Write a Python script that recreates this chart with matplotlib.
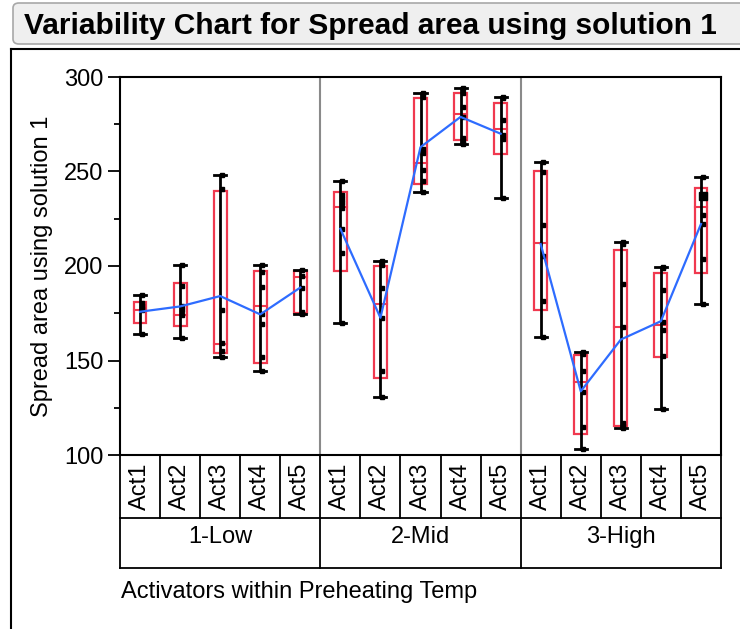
import numpy as np
import matplotlib
matplotlib.use('AGG')
import matplotlib.pyplot as plt
from matplotlib.patches import FancyBboxPatch, Rectangle
from matplotlib.lines import Line2D

plt.rcParams['font.family'] = ['Liberation Sans', 'DejaVu Sans']

groups = ['1-Low', '2-Mid', '3-High']
activators = ['Act1', 'Act2', 'Act3', 'Act4', 'Act5']

# one entry per cell, Act1..Act5 within each temperature group
range_lo = [164.1, 162.0, 151.9, 144.3, 174.4,
            169.8, 130.6, 239.0, 264.7, 236.0,
            162.3, 103.0, 114.2, 124.3, 180.1]
range_hi = [184.7, 200.4, 248.2, 200.4, 198.1,
            245.2, 202.4, 291.3, 294.1, 289.5,
            255.2, 154.4, 212.6, 199.5, 247.0]
box_lo = [169.6, 168.2, 154.0, 148.5, 175.1,
          197.4, 140.7, 243.5, 266.8, 259.4,
          176.7, 111.0, 115.4, 152.1, 196.5]
box_hi = [180.9, 191.0, 239.9, 197.4, 197.4,
          238.9, 199.9, 288.8, 291.3, 286.0,
          250.2, 153.1, 208.7, 196.5, 241.2]
medians = [176.5, 174.0, 158.8, 178.6, 194.2,
           231.1, 179.7, 254.6, 280.3, 272.5,
           212.1, 138.6, 167.7, 168.7, 231.1]
means = [175.8, 178.6, 184.1, 174.4, 188.6,
         219.7, 172.6, 262.9, 278.9, 270.0,
         211.6, 133.7, 161.1, 170.8, 222.2]
points = [
    [184.7, 180.2, 179.0, 177.8, 176.5, 164.1],
    [200.4, 189.3, 178.6, 176.9, 174.0, 162.0],
    [248.2, 240.8, 176.9, 159.3, 154.9, 151.9],
    [200.4, 196.9, 188.9, 174.4, 169.1, 151.7, 144.3],
    [198.1, 194.7, 188.6, 175.5, 174.4],
    [245.2, 237.8, 235.5, 233.2, 230.7, 219.7, 207.0, 169.8],
    [202.4, 200.6, 188.2, 172.3, 144.3, 130.6],
    [291.3, 289.2, 262.1, 259.8, 250.9, 245.2, 239.0],
    [294.1, 291.6, 284.2, 278.9, 267.5, 266.1, 264.7],
    [289.5, 288.8, 277.5, 269.1, 267.4, 236.0],
    [255.2, 249.7, 221.7, 205.2, 181.5, 162.3],
    [154.4, 153.5, 144.6, 133.3, 114.7, 103.0],
    [212.6, 211.9, 190.3, 167.7, 116.8, 115.4, 114.2],
    [199.5, 198.8, 187.1, 170.5, 165.9, 152.6, 124.3],
    [247.0, 227.2, 222.2, 203.6, 180.1],
]
# overlapping observations drawn as a larger square
stacked_cell = [14]
stacked_val = [236.8]

W, H = 740, 629
fig = plt.figure(figsize=(W / 100, H / 100), dpi=100)


def fx(px):
    return px / W


def fy(py):
    return 1 - py / H


# title bar and outer frame
fig.patches.append(FancyBboxPatch((fx(13), fy(44)), fx(760) - fx(13), fy(3) - fy(44),
                                  boxstyle='round,pad=0,rounding_size=0.008',
                                  transform=fig.transFigure, facecolor='#efefef',
                                  edgecolor='#a8a8a8', linewidth=1.2))
fig.text(fx(24), fy(26), 'Variability Chart for Spread area using solution 1',
         fontsize=21.5, fontweight='bold', va='center', ha='left')
fig.lines.append(Line2D([fx(11), fx(11)], [fy(49), 0], transform=fig.transFigure,
                        color='black', lw=1.5))
fig.lines.append(Line2D([fx(11), 1], [fy(49), fy(49)], transform=fig.transFigure,
                        color='black', lw=1.5))

x0, x1, y0, y1 = 120, 721, 77, 455
ax = fig.add_axes([fx(x0), fy(y1), fx(x1) - fx(x0), fy(y0) - fy(y1)])
ax.set_xlim(0, 15)
ax.set_ylim(100, 300)

red = '#f0394f'
blue = '#2e6cff'
n = len(means)
xc = np.arange(n) + 0.5

for i in range(n):
    x = xc[i]
    ax.add_patch(Rectangle((x - 0.16, box_lo[i]), 0.32, box_hi[i] - box_lo[i],
                           fill=False, edgecolor=red, lw=1.6, zorder=3))
    ax.plot([x - 0.16, x + 0.16], [medians[i], medians[i]], color=red, lw=1.5, zorder=3)
    ax.plot([x, x], [range_lo[i], range_hi[i]], color='black', lw=2, zorder=4)
    for v in (range_lo[i], range_hi[i]):
        ax.plot([x - 0.15, x + 0.15], [v, v], color='black', lw=2, zorder=4)
    ax.plot(np.full(len(points[i]), x + 0.05), points[i], 's', color='black',
            markersize=2.3, zorder=5)

for c, v in zip(stacked_cell, stacked_val):
    ax.plot([xc[c] + 0.05], [v], 's', color='black', markersize=5.5, zorder=5)

for g in range(len(groups)):
    sl = slice(g * 5, g * 5 + 5)
    ax.plot(xc[sl], means[sl], color=blue, lw=1.6, zorder=6)

for xv in (5, 10):
    ax.axvline(xv, color='#8a8a8a', lw=1.5, zorder=1)

ax.set_yticks([100, 150, 200, 250, 300])
ax.set_yticks([125, 175, 225, 275], minor=True)
ax.tick_params(axis='y', which='major', length=9, width=1.3, labelsize=17, pad=3)
ax.tick_params(axis='y', which='minor', length=4, width=1.3)
ax.set_xticks([])
for s in ax.spines.values():
    s.set_linewidth(1.5)
ax.set_ylabel('Spread area using solution 1', fontsize=17, labelpad=8)

# label table under the plot
t_bot = 568
tab = fig.add_axes([fx(x0), fy(t_bot), fx(x1) - fx(x0), fy(y1) - fy(t_bot)])
tab.set_xlim(0, 15)
tab.set_ylim(0, 1)
tab.axis('off')
mid = (t_bot - 518) / (t_bot - y1)
lw = 1.3
tab.plot([0, 15], [0, 0], color='black', lw=lw, clip_on=False)
tab.plot([0, 15], [mid, mid], color='black', lw=lw, clip_on=False)
for k in range(16):
    ylo = 0 if k % 5 == 0 else mid
    tab.plot([k, k], [ylo, 1], color='black', lw=lw, clip_on=False)
for i in range(n):
    tab.text(xc[i], (1 + mid) / 2, activators[i % 5], rotation=90,
             ha='center', va='center', fontsize=17)
for g, name in enumerate(groups):
    tab.text(g * 5 + 2.5, 0.27, name, ha='center', va='center', fontsize=17)

fig.text(fx(121), fy(592), 'Activators within Preheating Temp', fontsize=17,
         ha='left', va='center')

fig.savefig('out.png', dpi=100)
